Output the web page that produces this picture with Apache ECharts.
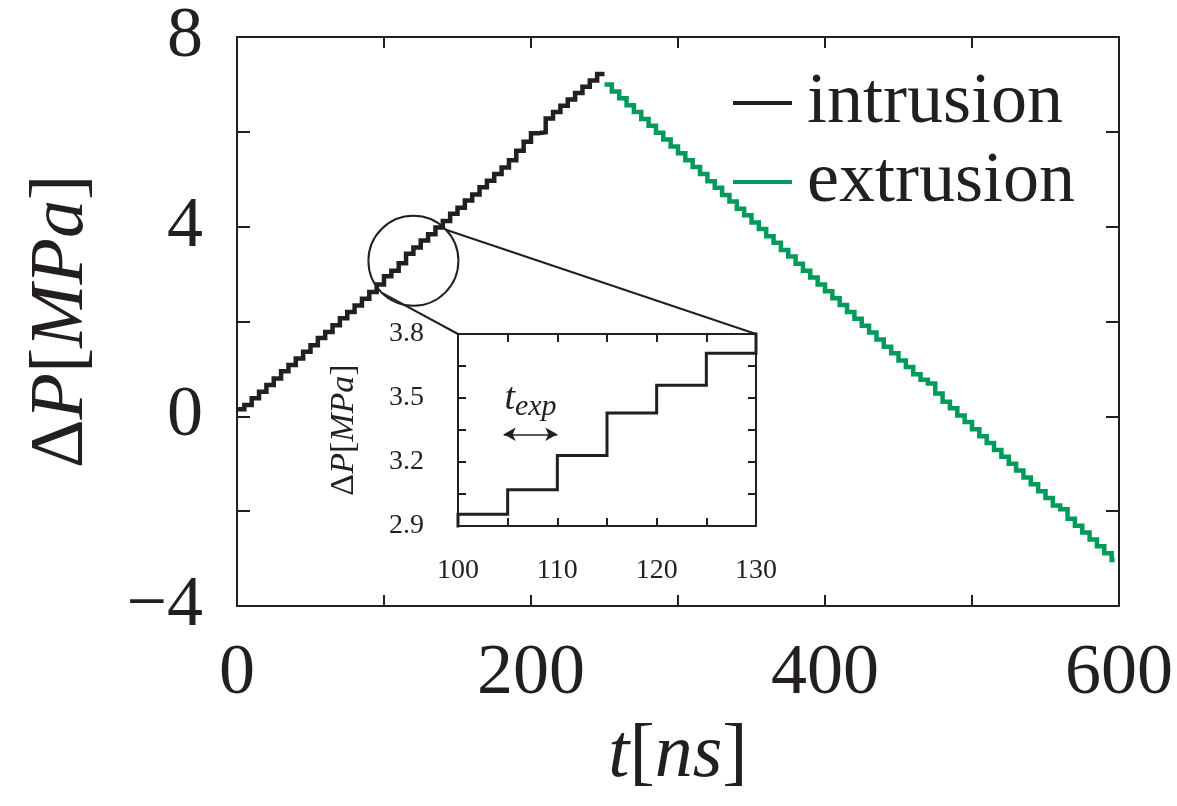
<!DOCTYPE html>
<html><head><meta charset="utf-8">
<script src="https://cdn.jsdelivr.net/npm/echarts@6/dist/echarts.min.js"></script>
<style>html,body{margin:0;padding:0;background:#fff}#c{width:1177px;height:806px}</style>
</head><body><div id="c"></div>
<script>
// ---- data ----
const T_EXP = 5;                 // ns per pressure step
const intrusionStart = 0;
const intrusionEnd = 250;
const intrusionP = [
  0.15, 0.24, 0.38, 0.52, 0.66, 0.80, 0.95, 1.08, 1.22, 1.36,
  1.50, 1.65, 1.78, 1.92, 2.07, 2.20, 2.34, 2.48, 2.62, 2.78,
  2.955, 3.07, 3.23, 3.43, 3.56, 3.71, 3.84, 3.98, 4.12, 4.27,
  4.40, 4.55, 4.68, 4.83, 4.97, 5.11, 5.25, 5.40, 5.60, 5.79,
  5.97, 5.99, 6.28, 6.42, 6.55, 6.68, 6.82, 6.95, 7.08, 7.22
];
const extrusionStart = 250;
const extrusionEnd = 597;
const extrusionP = [
  7.00, 6.85, 6.71, 6.56, 6.42, 6.27, 6.13, 5.98, 5.84, 5.69,
  5.55, 5.40, 5.26, 5.11, 4.96, 4.82, 4.67, 4.53, 4.38, 4.24,
  4.09, 3.95, 3.80, 3.66, 3.51, 3.37, 3.22, 3.07, 2.93, 2.78,
  2.64, 2.49, 2.35, 2.20, 2.06, 1.91, 1.77, 1.62, 1.47, 1.33,
  1.18, 1.04, 0.89, 0.77, 0.69, 0.48, 0.31, 0.17, 0.02, -0.12,
  -0.27, -0.42, -0.56, -0.71, -0.85, -1.00, -1.14, -1.29, -1.43, -1.58,
  -1.72, -1.88, -1.96, -2.16, -2.31, -2.45, -2.60, -2.74, -2.89, -3.03
];
const mainXTicks = [0, 200, 400, 600];
const mainYTicks = [-4, 0, 4, 8];
const insetXTicks = [100, 110, 120, 130];
const insetYTicks = [2.9, 3.2, 3.5, 3.8];
const legendNames = ['intrusion', 'extrusion'];
// annotation anchors (data coordinates)
const zoomCenter = [120, 3.28];
const arrowSpan = [104.6, 110];
const arrowLevel = 3.33;

// ---- helpers ----
const INK = '#231f20', GREEN = '#009a5b', FONT = 'Liberation Serif';
function steps(start, end, vals) {
  const d = vals.map((v, i) => [start + i * T_EXP, v]);
  d.push([end, vals[vals.length - 1]]);
  return d;
}
function fmtNum(v) { return v < 0 ? '\u2212' + Math.abs(v) : String(v); }
function pick(list, dec) {
  return v => { const hit = list.find(t => Math.abs(t - v) < 1e-6); return hit === undefined ? '' : (dec ? hit.toFixed(dec) : fmtNum(hit)); };
}
const richMath = (size) => ({
  u: { fontFamily: FONT, fontSize: size, color: INK },
  i: { fontFamily: FONT, fontSize: size, fontStyle: 'italic', color: INK }
});
function axisBase(extra) {
  return Object.assign({
    type: 'value', splitLine: { show: false },
    axisLine: { show: true, onZero: false, lineStyle: { color: INK, width: 2 } },
    axisTick: { show: true, inside: true, length: 11, lineStyle: { color: INK, width: 2 } }
  }, extra);
}

const chart = echarts.init(document.getElementById('c'), null, { renderer: 'canvas' });
const intrusionData = steps(intrusionStart, intrusionEnd, intrusionP);
const extrusionData = steps(extrusionStart, extrusionEnd, extrusionP);
const sharp = { join: 'miter', cap: 'butt' };

chart.setOption({
  animation: false,
  backgroundColor: '#fff',
  grid: [
    { left: 237, top: 37, width: 882, height: 569, outerBoundsMode: 'none', containLabel: false },
    { left: 458, top: 334, width: 298, height: 192, outerBoundsMode: 'none', containLabel: false,
      show: true, backgroundColor: '#fff', borderWidth: 0 }
  ],
  xAxis: [
    axisBase({ gridIndex: 0, min: 0, max: 600, interval: 100, position: 'bottom',
      name: '{i|t}{u|[}{i|ns}{u|]}', nameLocation: 'middle', nameGap: 112,
      nameTextStyle: { rich: richMath(76) },
      axisLabel: { formatter: pick(mainXTicks), fontFamily: FONT, fontSize: 72, color: INK, margin: 32 } }),
    axisBase({ gridIndex: 0, min: 0, max: 600, interval: 100, position: 'top', axisLabel: { show: false } }),
    axisBase({ gridIndex: 1, min: 100, max: 130, interval: 5, position: 'bottom',
      axisTick: { show: true, inside: true, length: 8, lineStyle: { color: INK, width: 2 } },
      axisLabel: { formatter: pick(insetXTicks), fontFamily: FONT, fontSize: 28, color: INK, margin: 31 } }),
    axisBase({ gridIndex: 1, min: 100, max: 130, interval: 5, position: 'top',
      axisTick: { show: true, inside: true, length: 8, lineStyle: { color: INK, width: 2 } },
      axisLabel: { show: false } })
  ],
  yAxis: [
    axisBase({ gridIndex: 0, min: -4, max: 8, interval: 2, position: 'left',
      name: '{u|\u0394}{i|P}{u|[}{i|MPa}{u|]}', nameLocation: 'middle', nameGap: 137, nameRotate: 90,
      nameTextStyle: { rich: richMath(76) },
      axisTick: { show: true, inside: true, length: 13, lineStyle: { color: INK, width: 2 } },
      axisLabel: { formatter: pick(mainYTicks), fontFamily: FONT, fontSize: 72, color: INK, margin: 34 } }),
    axisBase({ gridIndex: 0, min: -4, max: 8, interval: 2, position: 'right',
      axisTick: { show: true, inside: true, length: 13, lineStyle: { color: INK, width: 2 } },
      axisLabel: { show: false } }),
    axisBase({ gridIndex: 1, min: 2.9, max: 3.8, interval: 0.15, position: 'left',
      name: '{u|\u0394}{i|P}{u|[}{i|MPa}{u|]}', nameLocation: 'middle', nameGap: 97, nameRotate: 90,
      nameTextStyle: { rich: richMath(34) },
      axisTick: { show: true, inside: true, length: 8, lineStyle: { color: INK, width: 2 } },
      axisLabel: { formatter: pick(insetYTicks, 1), fontFamily: FONT, fontSize: 28, color: INK, margin: 34 } }),
    axisBase({ gridIndex: 1, min: 2.9, max: 3.8, interval: 0.15, position: 'right',
      axisTick: { show: true, inside: true, length: 8, lineStyle: { color: INK, width: 2 } },
      axisLabel: { show: false } })
  ],
  legend: {
    data: legendNames.map(n => ({ name: n, icon: 'rect' })), orient: 'vertical', left: 728, top: 62,
    itemWidth: 59, itemHeight: 4, itemGap: 7,
    textStyle: { fontFamily: FONT, fontSize: 72, color: INK, padding: [0, 0, 0, 10] }
  },
  series: [
    { name: 'intrusion', type: 'line', xAxisIndex: 0, yAxisIndex: 0, step: 'end', symbol: 'none',
      data: intrusionData, color: INK, lineStyle: Object.assign({ color: INK, width: 4.5 }, sharp) },
    { name: 'extrusion', type: 'line', xAxisIndex: 0, yAxisIndex: 0, step: 'end', symbol: 'none',
      data: extrusionData, color: GREEN, lineStyle: Object.assign({ color: GREEN, width: 4.5 }, sharp) },
    { name: 'intrusion (zoom)', type: 'line', xAxisIndex: 2, yAxisIndex: 2, step: 'end', symbol: 'none',
      data: intrusionData, color: INK, clip: true, lineStyle: Object.assign({ color: INK, width: 3 }, sharp),
      markLine: {
        silent: true, symbol: ['arrow', 'arrow'], symbolSize: [10, 12],
        lineStyle: { color: INK, width: 1.5, type: 'solid' },
        label: { show: true, position: 'middle', distance: 16, formatter: '{t|t}{s|exp}',
          rich: {
            t: { fontFamily: FONT, fontStyle: 'italic', fontSize: 38, color: INK, lineHeight: 38 },
            s: { fontFamily: FONT, fontStyle: 'italic', fontSize: 30, color: INK, lineHeight: 38, padding: [16, 0, 0, 0] }
          } },
        data: [[{ coord: [arrowSpan[0], arrowLevel] }, { coord: [arrowSpan[1], arrowLevel] }]]
      } }
  ]
});

// zoom circle + connector lines anchored through the axes
const c = chart.convertToPixel({ xAxisIndex: 0, yAxisIndex: 0 }, zoomCenter);
const tl = chart.convertToPixel({ xAxisIndex: 2, yAxisIndex: 2 }, [100, 3.8]);
const tr = chart.convertToPixel({ xAxisIndex: 2, yAxisIndex: 2 }, [130, 3.8]);
const R = 45;
const a1 = -43.7 * Math.PI / 180, a2 = 134.4 * Math.PI / 180;
chart.setOption({
  graphic: [
    { type: 'circle', shape: { cx: c[0], cy: c[1], r: R }, style: { fill: 'none', stroke: INK, lineWidth: 2 }, z: 100 },
    { type: 'line', shape: { x1: c[0] + R * Math.cos(a1), y1: c[1] + R * Math.sin(a1), x2: tr[0], y2: tr[1] }, style: { stroke: INK, lineWidth: 2 }, z: 100 },
    { type: 'line', shape: { x1: c[0] + R * Math.cos(a2), y1: c[1] + R * Math.sin(a2), x2: tl[0], y2: tl[1] }, style: { stroke: INK, lineWidth: 2 }, z: 100 }
  ]
});
</script></body></html>
